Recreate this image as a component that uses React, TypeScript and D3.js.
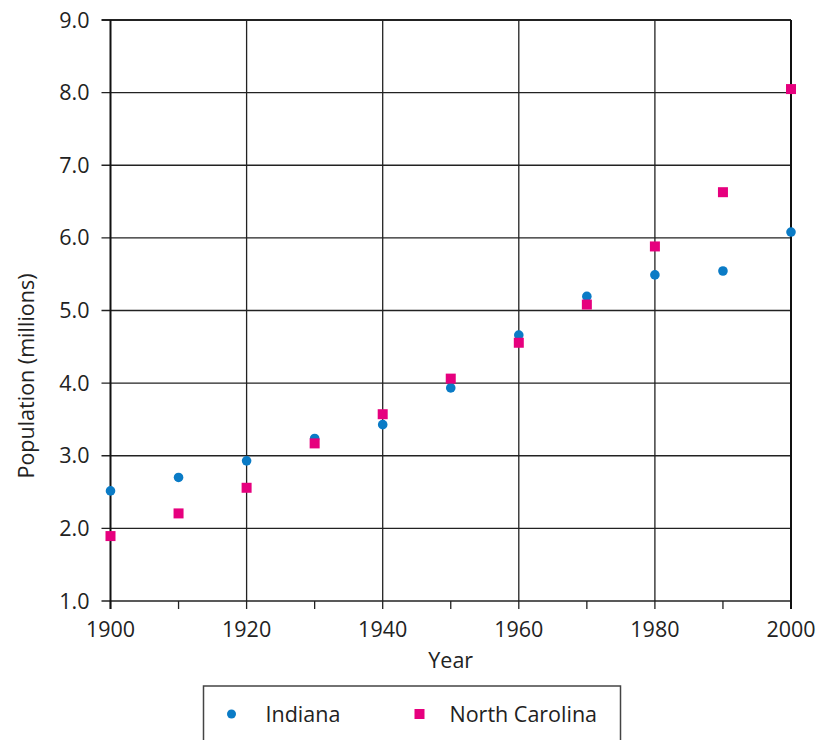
import { useMemo } from 'react';
import * as d3 from 'd3';

const years = [1900, 1910, 1920, 1930, 1940, 1950, 1960, 1970, 1980, 1990, 2000];
const indiana = [2.516, 2.701, 2.93, 3.238, 3.428, 3.934, 4.662, 5.194, 5.49, 5.544, 6.08];
const northCarolina = [1.894, 2.206, 2.559, 3.17, 3.572, 4.062, 4.556, 5.082, 5.882, 6.629, 8.049];
const yTicks = [1, 2, 3, 4, 5, 6, 7, 8, 9];
const xLabelYears = [1900, 1920, 1940, 1960, 1980, 2000];

const BLUE = '#0a7bc6';
const PINK = '#e6007e';
const FONT = '"Open Sans", "Noto Sans", sans-serif';
const FS = 21.5;

export default function App(): React.ReactNode {
  const width = 823;
  const height = 740;
  const margin = { top: 20, right: 32, bottom: 139, left: 110.5 };
  const innerW = width - margin.left - margin.right;
  const innerH = height - margin.top - margin.bottom;

  const { x, y } = useMemo(() => {
    const x = d3.scaleLinear().domain([1900, 2000]).range([0, innerW]);
    const y = d3.scaleLinear().domain([1, 9]).range([innerH, 0]);
    return { x, y };
  }, [innerW, innerH]);

  return (
    <svg
      width={width}
      height={height}
      style={{ position: 'absolute', left: 0, top: 0, background: '#fff' }}
      fontFamily={FONT}
    >
      <g transform={`translate(${margin.left},${margin.top})`}>
        {yTicks.map((t) => (
          <g key={t}>
            <line x1={-9} x2={innerW} y1={y(t)} y2={y(t)} stroke="#222" strokeWidth={t === 9 ? 2 : 1.3} />
            <text x={-21} y={y(t)} dy="0.35em" textAnchor="end" fontSize={FS} fill="#222">
              {t.toFixed(1)}
            </text>
          </g>
        ))}
        {xLabelYears.slice(1, -1).map((t) => (
          <line key={t} x1={x(t)} x2={x(t)} y1={0} y2={innerH} stroke="#222" strokeWidth={1.3} />
        ))}
        {years.map((t) => (
          <line key={t} x1={x(t)} x2={x(t)} y1={innerH} y2={innerH + 8} stroke="#222" strokeWidth={1.3} />
        ))}
        <line x1={0} x2={0} y1={0} y2={innerH + 8} stroke="#111" strokeWidth={2} />
        <line x1={innerW} x2={innerW} y1={0} y2={innerH + 8} stroke="#111" strokeWidth={2} />
        {xLabelYears.map((t) => (
          <text key={t} x={x(t)} y={innerH + 36} textAnchor="middle" fontSize={FS} fill="#222">
            {t}
          </text>
        ))}
        <text x={innerW / 2} y={innerH + 67} textAnchor="middle" fontSize={FS} fill="#222">
          Year
        </text>
        <text
          transform={`translate(${-77},${356}) rotate(-90)`}
          textAnchor="middle"
          fontSize={FS}
          fill="#222"
        >
          Population (millions)
        </text>
        {years.map((t, i) => (
          <circle key={'in' + t} cx={x(t)} cy={y(indiana[i])} r={4.8} fill={BLUE} />
        ))}
        {years.map((t, i) => (
          <rect
            key={'nc' + t}
            x={x(t) - 5}
            y={y(northCarolina[i]) - 5}
            width={10}
            height={10}
            fill={PINK}
          />
        ))}
      </g>
      <g transform="translate(203.5,686)">
        <rect x={0} y={0} width={417} height={70} fill="none" stroke="#444" strokeWidth={1.5} />
        <circle cx={28} cy={28} r={4.5} fill={BLUE} />
        <text x={62} y={28} dy="0.35em" fontSize={FS} fill="#222">
          Indiana
        </text>
        <rect x={211} y={23} width={10} height={10} fill={PINK} />
        <text x={246} y={28} dy="0.35em" fontSize={FS} fill="#222">
          North Carolina
        </text>
      </g>
    </svg>
  );
}
